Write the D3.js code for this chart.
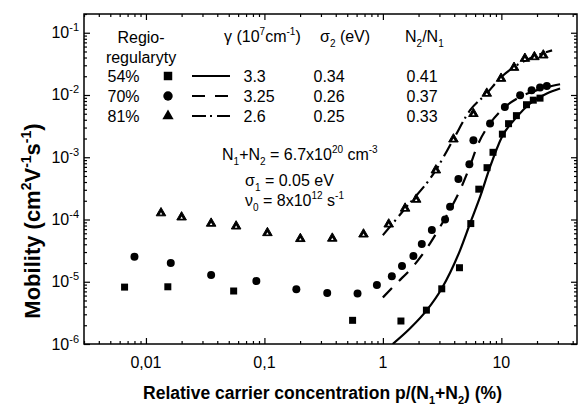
<!DOCTYPE html>
<html>
<head>
<meta charset="utf-8">
<script src="https://cdn.jsdelivr.net/npm/d3@7/dist/d3.min.js"></script>
<style>
  body { margin: 0; background: #fff; }
  text { font-family: "Liberation Sans", Arial, sans-serif; fill: #000; }
</style>
</head>
<body>
<div id="chart"></div>
<script>
var svgWidth = 578;
var svgHeight = 405;

var margin = { top: 14, right: 1, bottom: 61, left: 84 };
var width = svgWidth - margin.left - margin.right;
var height = svgHeight - margin.top - margin.bottom;

// axis ranges + tick labels
var xDomain = [0.003, 43.5];
var yDomain = [1e-6, 0.2];
var xTickValues = [0.01, 0.1, 1, 10];
var xTickLabels = ["0,01", "0,1", "1", "10"];
var yTickValues = [1e-6, 1e-5, 1e-4, 1e-3, 1e-2, 1e-1];
var yTickExps = ["-6", "-5", "-4", "-3", "-2", "-1"];

// measured points  [p/(N1+N2) %, mobility]
var rr54 = [[0.0066, 8.2e-6], [0.0153, 8.3e-6], [0.055, 7.1e-6], [0.555, 2.4e-6], [1.42, 2.34e-6],
  [2.33, 3.5e-6], [3.14, 7.7e-6], [4.43, 1.68e-5], [5.52, 8.6e-5], [6.45, 3.07e-4], [7.57, 6.8e-4],
  [8.5, 1.2e-3], [10.2, 2.35e-3], [11.5, 3.46e-3], [13.4, 4.66e-3], [16.3, 6.98e-3], [18.6, 8.26e-3],
  [21.2, 8.9e-3]];
var rr70 = [[0.008, 2.52e-5], [0.0162, 2.0e-5], [0.0355, 1.28e-5], [0.0855, 1.03e-5], [0.186, 7.55e-6],
  [0.339, 6.6e-6], [0.611, 6.5e-6], [0.89, 8.9e-6], [1.19, 1.23e-5], [1.45, 1.79e-5], [1.81, 2.59e-5],
  [2.13, 4.03e-5], [2.59, 6.8e-5], [3.35, 1.0e-4], [3.69, 1.6e-4], [4.34, 4.46e-4], [5.37, 7.7e-4],
  [5.81, 1.88e-3], [8.03, 3.49e-3], [10.7, 6.4e-3], [14.4, 9.9e-3], [18.0, 1.19e-2], [21.2, 1.32e-2],
  [24.2, 1.40e-2]];
var rr81 = [[0.0134, 1.27e-4], [0.02, 1.09e-4], [0.0355, 8.65e-5], [0.0577, 7.8e-5], [0.106, 6.1e-5],
  [0.201, 4.9e-5], [0.374, 4.97e-5], [0.686, 5.8e-5], [1.12, 8.4e-5], [1.54, 1.51e-4], [1.91, 2.1e-4],
  [2.8, 6.2e-4], [3.94, 1.95e-3], [5.81, 5.0e-3], [7.53, 1.06e-2], [9.94, 1.84e-2], [12.8, 2.76e-2],
  [15.8, 3.85e-2], [19.0, 4.09e-2], [22.6, 4.36e-2]];

// model curves
var fit54 = [[1.21, 1.0e-6], [1.70, 1.79e-6], [2.35, 3.5e-6], [3.14, 7.8e-6], [4.48, 3.2e-5],
  [5.45, 8.7e-5], [6.61, 2.3e-4], [8.03, 7.0e-4], [10.1, 2.12e-3], [13.5, 4.45e-3], [17.5, 7.3e-3],
  [24.0, 1.05e-2], [31.3, 1.27e-2]];
var fit70 = [[1.0, 5.6e-6], [1.31, 9.5e-6], [1.81, 1.79e-5], [2.51, 4.18e-5], [3.35, 1.05e-4],
  [4.34, 2.6e-4], [5.27, 6.2e-4], [6.4, 1.67e-3], [8.03, 3.5e-3], [10.4, 6.1e-3], [14.4, 9.3e-3],
  [21.2, 1.24e-2], [31.3, 1.49e-2]];
var fit81 = [[1.0, 5.6e-5], [1.54, 1.5e-4], [2.8, 6.2e-4], [3.94, 1.95e-3], [5.45, 5.7e-3],
  [7.53, 1.06e-2], [9.75, 1.86e-2], [13.1, 2.9e-2], [17.5, 3.9e-2], [26.8, 5.2e-2]];

// legend table
var legendPct = ["54%", "70%", "81%"];
var legendGamma = ["3.3", "3.25", "2.6"];
var legendSigma2 = ["0.34", "0.26", "0.25"];
var legendRatio = ["0.41", "0.37", "0.33"];

var dashStyles = [null, "13,10", "14,4,2,5"];

var svg = d3.select("#chart").append("svg")
  .attr("width", svgWidth)
  .attr("height", svgHeight);

var chartGroup = svg.append("g")
  .attr("transform", `translate(${margin.left}, ${margin.top})`);

var xScale = d3.scaleLog().domain(xDomain).range([0, width]);
var yScale = d3.scaleLog().domain(yDomain).range([height, 0]);

// minor ticks 2..9 of every decade inside the domain
function minorTicks(domain) {
  var out = [];
  for (var e = -7; e <= 2; e++) {
    for (var k = 2; k <= 9; k++) {
      var v = k * Math.pow(10, e);
      if (v >= domain[0] * 0.999 && v <= domain[1]) out.push(v);
    }
  }
  return out;
}

function tickAxis(axisFn, scale, values, size) {
  return axisFn(scale).tickValues(values).tickSize(-size).tickSizeOuter(0).tickFormat("");
}

var xMinor = minorTicks(xDomain);
var yMinor = minorTicks(yDomain);

var axes = [
  [d3.axisBottom, xScale, `translate(0,${height})`],
  [d3.axisTop, xScale, "translate(0,0)"],
  [d3.axisLeft, yScale, "translate(0,0)"],
  [d3.axisRight, yScale, `translate(${width},0)`]
];
axes.forEach(function(a) {
  var isX = a[1] === xScale;
  var g = chartGroup.append("g").attr("transform", a[2]);
  g.append("g").call(tickAxis(a[0], a[1], isX ? xMinor : yMinor, 3));
  g.append("g").call(tickAxis(a[0], a[1], isX ? xTickValues : yTickValues, 6));
  g.selectAll("path").remove();
  g.selectAll("line").attr("stroke", "#000").attr("stroke-width", 1.2);
});

chartGroup.append("rect")
  .attr("width", width)
  .attr("height", height)
  .attr("fill", "none")
  .attr("stroke", "#000")
  .attr("stroke-width", 1.5);

// tick labels
chartGroup.selectAll(".xlab")
  .data(xTickValues)
  .enter()
  .append("text")
  .attr("x", d => xScale(d))
  .attr("y", height + 24)
  .style("font-size", "16px")
  .style("text-anchor", "middle")
  .text((d, i) => xTickLabels[i]);

yTickValues.forEach(function(v, i) {
  var t = chartGroup.append("text")
    .attr("x", -5)
    .attr("y", yScale(v) + 5.5)
    .style("font-size", "16px")
    .style("text-anchor", "end");
  t.append("tspan").text("10");
  t.append("tspan").attr("dy", -7).style("font-size", "11px").text(yTickExps[i]);
});

// rich text helper: parts = [text, "^sup", "_sub", ...]
function richText(parent, x, y, parts, size, anchor, weight) {
  var t = parent.append("text")
    .attr("x", x)
    .attr("y", y)
    .style("font-size", size + "px")
    .style("text-anchor", anchor || "start")
    .style("font-weight", weight || "normal");
  var shift = 0;
  parts.forEach(function(p) {
    var target = 0, txt = p, small = false;
    if (p[0] === "^") { target = -0.42 * size; txt = p.slice(1); small = true; }
    if (p[0] === "_") { target = 0.3 * size; txt = p.slice(1); small = true; }
    var s = t.append("tspan").attr("dy", target - shift).text(txt);
    if (small) s.style("font-size", Math.round(size * 0.65) + "px");
    shift = target;
  });
  return t;
}

// axis titles
richText(svg, margin.left + width / 2 - 8, 399,
  ["Relative carrier concentration p/(N", "_1", "+N", "_2", ") (%)"], 17.5, "middle", "bold");

var yTitle = richText(svg, 0, 0, ["Mobility (cm", "^2", "V", "^-1", "s", "^-1", ")"], 22, "middle", "bold")
  .attr("transform", "translate(40,221) rotate(-90)");

// lines
svg.append("clipPath").attr("id", "plotclip")
  .append("rect").attr("width", width).attr("height", height);

var line = d3.line()
  .x(d => xScale(d[0]))
  .y(d => yScale(d[1]))
  .curve(d3.curveMonotoneX);

var linesGroup = chartGroup.append("g").attr("clip-path", "url(#plotclip)");
[fit54, fit70, fit81].forEach(function(f, i) {
  linesGroup.append("path")
    .datum(f)
    .attr("d", line)
    .attr("fill", "none")
    .attr("stroke", "#000")
    .attr("stroke-width", 2.2)
    .attr("stroke-dasharray", dashStyles[i]);
});

// points
var sqSym = d3.symbol().type(d3.symbolSquare).size(49);
var ciSym = d3.symbol().type(d3.symbolCircle).size(50);
var trSym = d3.symbol().type(d3.symbolTriangle).size(40);
var trHole = d3.symbol().type(d3.symbolTriangle).size(3);

chartGroup.selectAll(".sq")
  .data(rr54)
  .enter()
  .append("path")
  .attr("d", sqSym)
  .attr("transform", d => `translate(${xScale(d[0])},${yScale(d[1])})`)
  .attr("fill", "#000");

chartGroup.selectAll(".ci")
  .data(rr70)
  .enter()
  .append("path")
  .attr("d", ciSym)
  .attr("transform", d => `translate(${xScale(d[0])},${yScale(d[1])})`)
  .attr("fill", "#000");

var triGroup = chartGroup.selectAll(".tr")
  .data(rr81)
  .enter()
  .append("g")
  .attr("transform", d => `translate(${xScale(d[0])},${yScale(d[1])})`);
triGroup.append("path")
  .attr("d", trSym)
  .attr("fill", "#000")
  .attr("stroke", "#000")
  .attr("stroke-width", 1);
triGroup.append("path")
  .attr("d", trHole)
  .attr("transform", "translate(0,0.8)")
  .attr("fill", "#fff");

// legend table
var lg = svg.append("g");
richText(lg, 141, 43, ["Regio-"], 16, "middle");
richText(lg, 141, 63, ["regularyty"], 16, "middle");
richText(lg, 224, 42, ["\u03b3  (10", "^7", "cm", "^-1", ")"], 16);
richText(lg, 320, 42, ["\u03c3", "_2", " (eV)"], 16);
richText(lg, 405, 42, ["N", "_2", "/N", "_1"], 16);

var legSyms = [
  d3.symbol().type(d3.symbolSquare).size(72),
  d3.symbol().type(d3.symbolCircle).size(70),
  d3.symbol().type(d3.symbolTriangle).size(55)
];

legendPct.forEach(function(p, i) {
  var by = 82 + i * 20;
  richText(lg, 107.5, by, [p], 16);
  lg.append("path")
    .attr("d", legSyms[i])
    .attr("transform", `translate(168,${by - 6})`)
    .attr("fill", "#000");
  lg.append("line")
    .attr("x1", 192).attr("x2", 230)
    .attr("y1", by - 6).attr("y2", by - 6)
    .attr("stroke", "#000")
    .attr("stroke-width", 2.2)
    .attr("stroke-dasharray", dashStyles[i]);
  richText(lg, 243.5, by, [legendGamma[i]], 16);
  richText(lg, 313.5, by, [legendSigma2[i]], 16);
  richText(lg, 406.5, by, [legendRatio[i]], 16);
});

// parameters note
richText(svg, 222, 160, ["N", "_1", "+N", "_2", " = 6.7x10", "^20", " cm", "^-3"], 16);
richText(svg, 245, 186, ["\u03c3", "_1", " = 0.05 eV"], 16);
richText(svg, 245, 206, ["\u03bd", "_0", " = 8x10", "^12", " s", "^-1"], 16);
</script>
</body>
</html>
